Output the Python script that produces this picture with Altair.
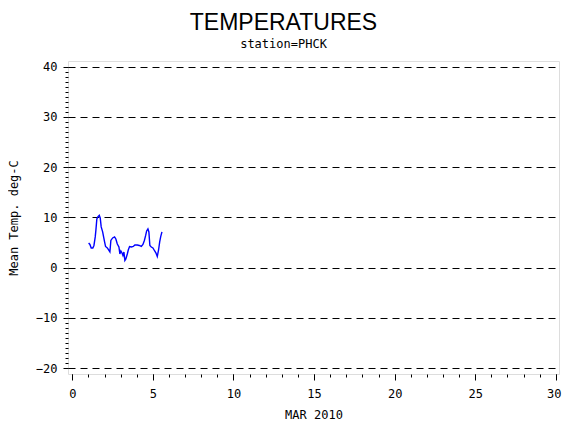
import altair as alt
import pandas as pd

# Day of month (MAR 2010) and mean temperature (deg C)
day = [1.01, 1.09, 1.17, 1.27, 1.34, 1.42, 1.46, 1.52, 1.58, 1.67, 1.73, 1.79,
       1.88, 1.94, 2.00, 2.06, 2.17, 2.25, 2.33, 2.39, 2.50, 2.62, 2.70, 2.79,
       2.89, 2.95, 3.01, 3.07, 3.14, 3.20, 3.26, 3.32, 3.41, 3.47, 3.55, 3.66,
       3.78, 3.88, 4.03, 4.15, 4.28, 4.38, 4.47, 4.55, 4.61, 4.69, 4.75, 4.81,
       4.90, 5.00, 5.11, 5.19, 5.27, 5.35, 5.42, 5.48, 5.56]
temp = [4.9, 4.6, 3.9, 3.9, 4.4, 6.1, 7.4, 9.7, 10.1, 10.4, 9.9, 8.1,
        7.1, 6.1, 5.1, 4.2, 3.9, 3.5, 3.1, 5.4, 5.9, 6.1, 5.7, 4.7,
        4.1, 2.7, 3.3, 3.0, 2.4, 3.1, 1.4, 1.7, 2.7, 3.5, 4.2, 4.1,
        4.2, 4.5, 4.5, 4.4, 4.2, 4.6, 5.4, 6.4, 7.3, 7.7, 7.1, 4.4,
        4.1, 3.9, 3.3, 2.9, 2.2, 3.5, 5.1, 6.1, 7.1]

x_major = [0, 5, 10, 15, 20, 25, 30]
x_minor = list(range(0, 31))
y_major = [-20, -10, 0, 10, 20, 30, 40]
y_minor = list(range(-20, 41))

df = pd.DataFrame({"day": day, "temp": temp})

mono = "DejaVu Sans Mono"
xscale = alt.Scale(domain=[-0.27, 30.2], nice=False, zero=False)
yscale = alt.Scale(domain=[-21.19, 41.13], nice=False, zero=False)

base = alt.Chart(df)

minor = base.mark_point(opacity=0).encode(
    x=alt.X("day:Q", scale=xscale,
            axis=alt.Axis(values=x_minor, labels=False, title=None, tickSize=3,
                          domain=False, grid=False, orient="bottom",
                          tickColor="black", tickWidth=1)),
    y=alt.Y("temp:Q", scale=yscale,
            axis=alt.Axis(values=y_minor, labels=False, title=None, tickSize=3,
                          domain=False, grid=False, orient="left",
                          tickColor="black", tickWidth=1)),
)

line = base.mark_line(color="#0000ff", strokeWidth=1.4).encode(
    x=alt.X("day:Q", scale=xscale,
            axis=alt.Axis(values=x_major, title="MAR 2010", orient="bottom",
                          tickSize=6, tickColor="black", tickWidth=1,
                          domain=False, grid=False,
                          labelFont=mono, labelFontSize=12, labelColor="black",
                          labelPadding=8,
                          labelOffset={"expr": "datum.value == 30 ? -2 : 0"},
                          titleFont=mono, titleFontSize=12,
                          titleFontWeight="normal", titleColor="black",
                          titlePadding=10)),
    y=alt.Y("temp:Q", scale=yscale,
            axis=alt.Axis(values=y_major, title="Mean Temp. deg-C", orient="left",
                          tickSize=5, tickColor="black", tickWidth=1,
                          domain=False, grid=True, gridColor="black",
                          gridDash=[7, 5], gridWidth=1, gridOpacity=1,
                          labelFont=mono, labelFontSize=12, labelColor="black",
                          labelPadding=6, titleFont=mono, titleFontSize=12,
                          titleFontWeight="normal", titleColor="black",
                          titlePadding=15)),
)

chart = alt.layer(minor, line).resolve_axis(
    x="independent", y="independent"
).properties(
    width=491,
    height=313,
    autosize=alt.AutoSizeParams(type="none"),
    padding={"left": 60, "top": 53, "right": 3, "bottom": 48},
    title=alt.TitleParams(
        text="TEMPERATURES",
        subtitle="station=PHCK",
        anchor="middle",
        frame="group",
        dx=-30,
        font="Liberation Sans",
        fontSize=23,
        fontWeight="normal",
        color="black",
        subtitleFont=mono,
        subtitleFontSize=12,
        subtitleColor="black",
        subtitlePadding=4,
        offset=11,
    ),
).configure_view(stroke="black", strokeWidth=1).configure(background="white")

chart.save("out.html", embed_options={"renderer": "svg", "actions": False})
